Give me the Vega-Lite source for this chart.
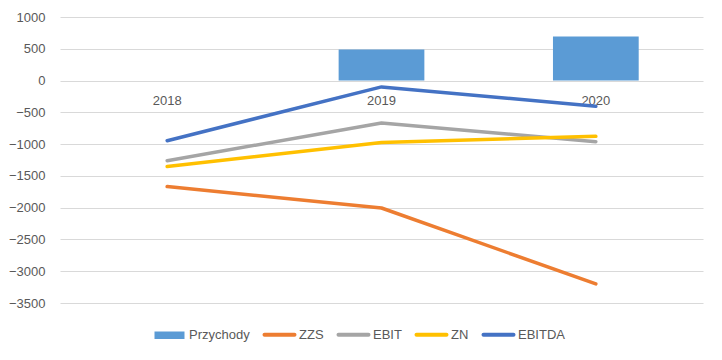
{
  "$schema": "https://vega.github.io/schema/vega-lite/v6.json",
  "width": 643,
  "height": 286,
  "autosize": {"type": "none"},
  "padding": {"left": 60, "top": 17, "right": 19, "bottom": 57},
  "background": "white",
  "config": {
    "view": {"stroke": null},
    "font": "Liberation Sans",
    "axis": {"labelColor": "#595959", "labelFontSize": 13, "gridColor": "#d9d9d9", "gridWidth": 1, "domain": false, "ticks": false, "tickSize": 0, "title": null}
  },
  "data": {
    "values": [
      {"year": "2018", "series": "Przychody", "value": 0},
      {"year": "2019", "series": "Przychody", "value": 490},
      {"year": "2020", "series": "Przychody", "value": 695},
      {"year": "2018", "series": "ZZS", "value": -1667},
      {"year": "2019", "series": "ZZS", "value": -2005},
      {"year": "2020", "series": "ZZS", "value": -3200},
      {"year": "2018", "series": "EBIT", "value": -1262},
      {"year": "2019", "series": "EBIT", "value": -667},
      {"year": "2020", "series": "EBIT", "value": -962},
      {"year": "2018", "series": "ZN", "value": -1352},
      {"year": "2019", "series": "ZN", "value": -973},
      {"year": "2020", "series": "ZN", "value": -878},
      {"year": "2018", "series": "EBITDA", "value": -946},
      {"year": "2019", "series": "EBITDA", "value": -100},
      {"year": "2020", "series": "EBITDA", "value": -405}
    ]
  },
  "encoding": {
    "x": {
      "field": "year", "type": "nominal",
      "scale": {"paddingInner": 0.6, "paddingOuter": 0.3},
      "axis": {"orient": "bottom", "labelAngle": 0, "offset": -222, "labelPadding": 13, "grid": false}
    },
    "y": {
      "field": "value", "type": "quantitative",
      "scale": {"domain": [-3500, 1000], "nice": false, "zero": false},
      "axis": {"values": [-3500, -3000, -2500, -2000, -1500, -1000, -500, 0, 500, 1000], "format": "d", "labelPadding": 15, "grid": true}
    },
    "color": {
      "field": "series", "type": "nominal",
      "scale": {"domain": ["Przychody", "ZZS", "EBIT", "ZN", "EBITDA"], "range": ["#5B9BD5", "#ED7D31", "#A5A5A5", "#FFC000", "#4472C4"]},
      "legend": {
        "orient": "none", "legendX": 103, "legendY": 311, "direction": "horizontal",
        "title": null, "labelFontSize": 13, "labelColor": "#595959", "symbolSize": 900, "symbolType": "stroke", "symbolStrokeWidth": 4,
        "columnPadding": 6, "labelOffset": 13,
        "encode": {"symbols": {"update": {
          "shape": {"signal": "datum.value === 'Przychody' ? 'M-1,-0.25H1V0.25H-1Z' : 'stroke'"},
          "strokeWidth": {"signal": "datum.value === 'Przychody' ? 0 : 4"},
          "fill": {"scale": "color", "field": "value"},
          "stroke": {"scale": "color", "field": "value"},
          "strokeCap": {"value": "round"},
          "opacity": {"value": 1}
        }}}
      }
    }
  },
  "layer": [
    {
      "transform": [{"filter": "datum.series === 'Przychody'"}],
      "mark": {"type": "bar", "opacity": 1}
    },
    {
      "transform": [{"filter": "datum.series !== 'Przychody'"}],
      "mark": {"type": "line", "strokeWidth": 3.5, "strokeCap": "round", "strokeJoin": "round"},
      "encoding": {"order": {"field": "year"}}
    }
  ]
}
